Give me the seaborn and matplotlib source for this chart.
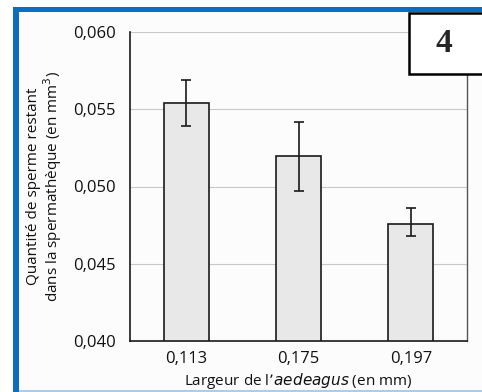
import matplotlib
matplotlib.use('Agg')

import matplotlib.pyplot as plt
import numpy as np
import pandas as pd
import seaborn as sns
from matplotlib.patches import Rectangle

# values
largeurs = ['0,113', '0,175', '0,197']
quantites = [0.0554, 0.0520, 0.0476]
err_bas = [0.0539, 0.0497, 0.0468]
err_haut = [0.0569, 0.0542, 0.0486]
y_ticks = [0.040, 0.045, 0.050, 0.055, 0.060]
y_tick_labels = ['0,040', '0,045', '0,050', '0,055', '0,060']
panel_label = '4'

sns.set_style('white')
plt.rcParams['font.family'] = ['Open Sans', 'DejaVu Sans']

df = pd.DataFrame({'largeur': largeurs, 'quantite': quantites})

fig = plt.figure(figsize=(4.82, 3.92), dpi=100)
fig.patch.set_facecolor('white')

# blue frame around the panel
W, H = 482.0, 392.0
fig.patches.append(Rectangle((13 / W, 0), 500 / W, 1 - 7 / H, transform=fig.transFigure,
                             facecolor='#0a6fc2', edgecolor='none', zorder=-10))
fig.patches.append(Rectangle((19 / W, 2 / H), 500 / W, 1 - 14 / H, transform=fig.transFigure,
                             facecolor='#fcfcfc', edgecolor='none', zorder=-9))
fig.patches.append(Rectangle((19 / W, 0), 500 / W, 2 / H, transform=fig.transFigure,
                             facecolor='#a9cdee', edgecolor='none', zorder=-9))

ax = fig.add_axes([130 / W, 1 - 341 / H, 337 / W, 309 / H])
ax.set_facecolor('none')

sns.barplot(data=df, x='largeur', y='quantite', color='#e8e8e8', edgecolor='#1a1a1a',
            linewidth=1.2, width=0.4, saturation=1, errorbar=None, ax=ax)

q = np.array(quantites)
yerr = np.array([q - np.array(err_bas), np.array(err_haut) - q])
ax.errorbar(np.arange(len(largeurs)), q, yerr=yerr, fmt='none', ecolor='#1a1a1a',
            elinewidth=1.2, capsize=3.5, capthick=1.2, zorder=3)

ax.set_ylim(0.040, 0.060)
ax.set_xlim(-0.5, 2.5)
ax.set_yticks(y_ticks)
ax.set_yticklabels(y_tick_labels)
ax.set_xticks(range(len(largeurs)))
ax.set_xticklabels(largeurs)
ax.set_xticks([0.5, 1.5, 2.5], minor=True)
ax.tick_params(axis='x', which='major', length=0, pad=7, labelsize=12)
ax.tick_params(axis='x', which='minor', length=4, width=1, color='#333333', direction='out')
ax.tick_params(axis='y', length=6, width=1.1, color='#1a1a1a', direction='out', pad=4, labelsize=12)

for t in ax.get_xticklabels() + ax.get_yticklabels():
    t.set_color('#111111')

ax.grid(axis='y', color='#c8c8c8', linewidth=0.8)
ax.set_axisbelow(True)
for side in ['left', 'bottom']:
    ax.spines[side].set_color('#1a1a1a')
    ax.spines[side].set_linewidth(1.2)
ax.spines['right'].set_color('#555555')
ax.spines['right'].set_linewidth(1.0)
ax.spines['top'].set_visible(False)

ax.set_xlabel("Largeur de l\u2019$\\it{aedeagus}$ (en mm)", fontsize=11, color='#111111', labelpad=3)
ax.set_ylabel('Quantit\u00e9 de sperme restant\ndans la spermath\u00e8que (en mm$^3$)',
              fontsize=11, color='#111111', labelpad=7, linespacing=1.0)

# panel number box
fig.patches.append(Rectangle((409 / W, 1 - 74 / H), 80 / W, 61 / H, transform=fig.transFigure,
                             facecolor='white', edgecolor='black', linewidth=1.8, zorder=5))
fig.text(444 / W, 1 - 43 / H, panel_label, fontsize=24, fontweight='bold',
         family=['Liberation Serif', 'DejaVu Serif'], ha='center', va='center', zorder=6)

fig.savefig('out.png', dpi=100)
plt.close()
